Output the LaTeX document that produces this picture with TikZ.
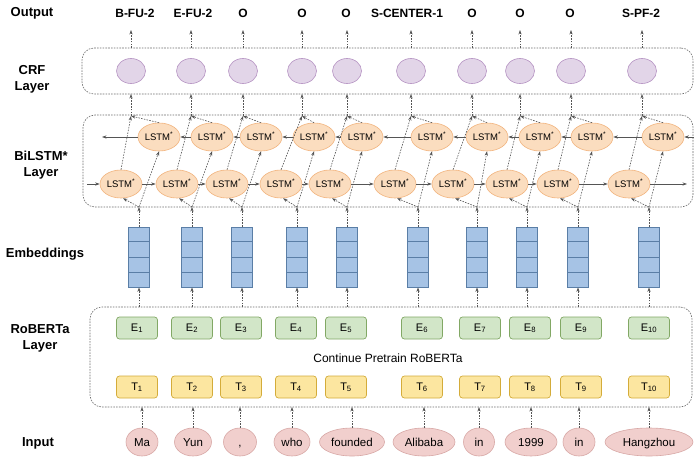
\documentclass[tikz,border=0pt]{standalone}
\usepackage{fontspec}
\setmainfont{Liberation Sans}
\usetikzlibrary{arrows.meta,calc,shapes.geometric}

\definecolor{lstmfill}{HTML}{FBDDBF}
\definecolor{lstmdraw}{HTML}{F2B47E}
\definecolor{crffill}{HTML}{E2D5E8}
\definecolor{crfdraw}{HTML}{B592C2}
\definecolor{embfill}{HTML}{A6C3E5}
\definecolor{embdraw}{HTML}{5A7EA6}
\definecolor{efill}{HTML}{D2E6C8}
\definecolor{edraw}{HTML}{82A865}
\definecolor{tfill}{HTML}{FCE6A0}
\definecolor{tdraw}{HTML}{D4AC3A}
\definecolor{infill}{HTML}{F1CFCD}
\definecolor{indraw}{HTML}{D8A8A6}
\definecolor{lineg}{HTML}{555555}

\begin{document}
\begin{tikzpicture}[x=1pt,y=-1pt,
  layerlabel/.style={font=\bfseries\fontsize{13}{16}\selectfont, align=center, inner sep=0pt},
  outlabel/.style={font=\bfseries\fontsize{12}{14}\selectfont, inner sep=0pt},
  layerbox/.style={draw=lineg!85, dash pattern=on 1.6pt off 1.2pt, line width=0.6pt, rounded corners=12pt},
  dasharrow/.style={draw=lineg, dash pattern=on 1.6pt off 1.2pt, line width=0.6pt, -{Stealth[length=4.5pt,width=3.2pt]}},
  solidarrow/.style={draw=lineg, line width=0.7pt, -{Stealth[length=4.5pt,width=3.2pt]}},
  lstm/.style={ellipse, draw=lstmdraw, fill=lstmfill, line width=0.6pt, minimum width=42pt, minimum height=28pt, inner sep=0pt, text height=7pt, text depth=0pt, font=\fontsize{9.5}{11}\selectfont},
  crf/.style={ellipse, draw=crfdraw, fill=crffill, line width=0.6pt, minimum width=29pt, minimum height=25pt, inner sep=0pt},
  embbox/.style={draw=embdraw, fill=embfill, line width=0.8pt, minimum width=21pt, minimum height=60pt, inner sep=0pt},
  embline/.style={draw=embdraw, line width=0.8pt},
  ebox/.style={draw=edraw, fill=efill, rounded corners=3pt, line width=0.7pt, minimum width=41pt, minimum height=22pt, inner sep=0pt, text height=8pt, text depth=2pt, font=\fontsize{11}{13}\selectfont},
  tbox/.style={draw=tdraw, fill=tfill, rounded corners=3pt, line width=0.7pt, minimum width=41pt, minimum height=22pt, inner sep=0pt, text height=8pt, text depth=2pt, font=\fontsize{11}{13}\selectfont},
  inword/.style={ellipse, draw=indraw, fill=infill, line width=0.6pt, minimum height=28pt, inner sep=0pt, text height=8.5pt, text depth=0pt, font=\fontsize{11.5}{13}\selectfont},
]
\useasboundingbox[fill=white] (0,0) rectangle (695,457);

% ---- layer labels
\node[layerlabel] (lOut) at (32,13) {Output};
\node[layerlabel] (lCrf) at (32,79) {CRF\\Layer};
\node[layerlabel] (lBi) at (41,165) {BiLSTM*\\Layer};
\node[layerlabel] (lEmb) at (45,254) {Embeddings};
\node[layerlabel] (lRob) at (40,338) {RoBERTa\\Layer};
\node[layerlabel] (lIn) at (38,443) {Input};

% ---- dashed layer boxes
\node[layerbox, minimum width=611pt, minimum height=46pt] (crfbox) at (387.5,71) {};
\node[layerbox, minimum width=610pt, minimum height=92pt] (bibox) at (388,161) {};
\node[layerbox, minimum width=602pt, minimum height=100pt] (robbox) at (391,357) {};

% ---- output + CRF
\foreach \i/\x/\lx/\t in {1/131/135/B-FU-2, 2/191/193/E-FU-2, 3/243/243/O, 4/302/302/O, 5/347/346/O,
  6/411/407/S-CENTER-1, 7/472/472/O, 8/520/520/O, 9/571/570/O, 10/642/641/S-PF-2} {
  \node[crf] (crf\i) at (\x,71) {};
  \node[outlabel] (out\i) at (\lx,13) {\t};
  \coordinate (ctop\i) at (\x,48);
  \coordinate (otip\i) at (\x,30);
  \coordinate (cbot\i) at (\x,94);
  \coordinate (J\i) at (\x,116);
  \draw[dasharrow] (ctop\i) -- (otip\i);
  \draw[dasharrow] (J\i) -- (cbot\i);
}

% ---- BiLSTM nodes
\foreach \i/\b/\t in {1/121/159, 2/177/212, 3/227/261, 4/281/314, 5/330/362,
  6/395/432, 7/453/487, 8/507/540, 9/558/592, 10/629/663} {
  \node[lstm] (lb\i) at (\b,184) {LSTM\textsuperscript{*}};
  \node[lstm] (lt\i) at (\t,137) {LSTM\textsuperscript{*}};
}

% horizontal connections
\coordinate (lbin) at (87,184);
\coordinate (lbout) at (687,184);
\coordinate (ltout) at (102,137);
\coordinate (ltin) at (694,137);
\draw[solidarrow] (lbin) -- (lb1.west);
\draw[solidarrow] (lb10.east) -- (lbout);
\draw[solidarrow] (lt1.west) -- (ltout);
\draw[solidarrow] (ltin) -- (lt10.east);
\foreach \i [evaluate=\i as \j using int(\i+1)] in {1,...,9} {
  \draw[solidarrow] (lb\i.east) -- (lb\j.west);
  \draw[solidarrow] (lt\j.west) -- (lt\i.east);
}

% ---- embeddings, RoBERTa, input
\foreach \i/\c/\ex/\ix/\wrd/\wdt in {1/139/137/142/Ma/32, 2/192/192/193/Yun/37, 3/242/241/240/{,}/33,
  4/297/296/292/who/36, 5/347/346/352/founded/65, 6/418/422/424/Alibaba/62,
  7/477/480/479/in/31, 8/527/530/531/1999/52, 9/578/581/579/in/32, 10/649/649/649/Hangzhou/88} {
  \node[embbox] (emb\i) at (\c,257) {};
  \foreach \k in {1,2,3} {
    \draw[embline] ($(emb\i.north west)!\k/4!(emb\i.south west)$) -- ($(emb\i.north east)!\k/4!(emb\i.south east)$);
  }
  \coordinate (B\i) at (\c,207);
  \coordinate (rt\i) at (\c,307);
  \coordinate (rb\i) at (\ix,407);
  \node[ebox] (E\i) at (\ex,328) {E\textsubscript{\i}};
  \node[tbox] (T\i) at (\ex,387) {T\textsubscript{\i}};
  \node[inword, minimum width=\wdt pt] (in\i) at (\ix,442) {\wrd};
  \draw[dasharrow] (in\i.north) -- (rb\i);
  \draw[dasharrow] (rt\i) -- (emb\i.south);
  \draw[dasharrow] (emb\i.north) -- (B\i);
  % into the BiLSTM
  \draw[dasharrow] (B\i) -- ($(lb\i.south)+(2,0)$);
  \draw[dasharrow] (B\i) -- (lt\i.south);
  % out of the BiLSTM
  \draw[dasharrow] (lb\i.north) -- (J\i);
  \draw[dasharrow] (lt\i.north) -- (J\i);
}

\node[font=\fontsize{12}{14}\selectfont] (cpt) at (388,358) {Continue Pretrain RoBERTa};
\end{tikzpicture}
\end{document}
